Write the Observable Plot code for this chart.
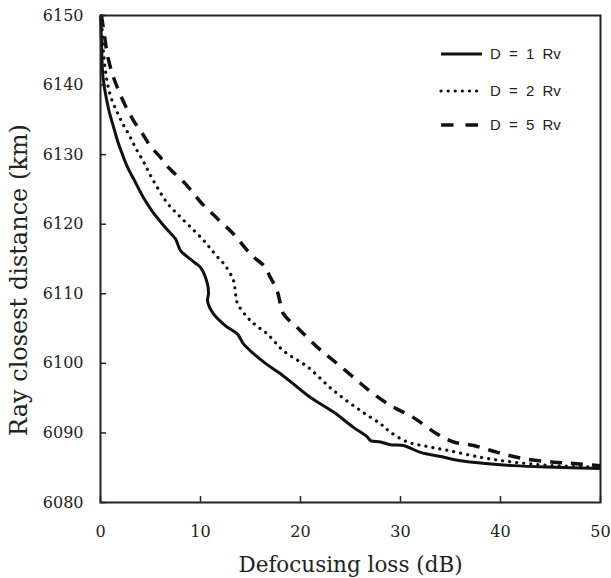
<!DOCTYPE html>
<html><head><meta charset="utf-8">
<script src="https://cdn.jsdelivr.net/npm/d3@7"></script>
<script src="https://cdn.jsdelivr.net/npm/@observablehq/plot@0.6"></script>
<style>body{margin:0;background:#fff}#chart{width:611px;height:578px}</style>
</head><body><div id="chart"></div>
<script>
const seriesNames = ["D = 1 Rv", "D = 2 Rv", "D = 5 Rv"];

const d1Loss = [0, 0.1, 0.2, 0.35, 0.6, 0.9, 1.3, 1.7, 2.2, 2.7, 3.5, 4.3, 5.2, 6.2, 7.0, 7.5, 8.0, 8.7, 9.4, 10.0, 10.7, 10.8, 10.7, 11.3, 12.5, 13.7, 14.3, 15.3, 16.5, 18.0, 19.5, 21.0, 23.3, 25.3, 26.7, 27.0, 28.0, 29.0, 30.3, 32.0, 34.0, 36.0, 38.5, 41.3, 44.7, 50];
const d1Dist = [6150, 6146, 6142, 6140, 6138, 6136, 6134, 6132, 6130, 6128.2, 6126, 6123.8, 6121.8, 6120, 6118.7, 6117.9, 6116.2, 6115.3, 6114.5, 6113.8, 6111.4, 6110, 6109, 6107.1, 6105.4, 6104.2, 6102.8, 6101.4, 6100, 6098.5, 6096.8, 6095.1, 6093, 6090.8, 6089.4, 6088.9, 6088.7, 6088.3, 6088.2, 6087.2, 6086.6, 6086.0, 6085.6, 6085.3, 6085.1, 6084.9];

const d2Loss = [0.1, 0.2, 0.3, 0.5, 0.7, 1.1, 1.7, 2.2, 2.8, 3.5, 4.3, 5.0, 5.8, 6.7, 7.8, 9.0, 10.3, 11.0, 11.7, 12.5, 13.3, 13.5, 13.7, 14.7, 15.5, 16.7, 18.3, 20.7, 23.3, 26.0, 28.0, 29.0, 30.7, 32.5, 34.7, 38.0, 41.3, 45.3, 50];
const d2Dist = [6150, 6147, 6144.6, 6142, 6140.2, 6138, 6136, 6134.5, 6133, 6131, 6129, 6127, 6125, 6123, 6121.3, 6119.6, 6117.7, 6116.5, 6115.3, 6114, 6111.9, 6110, 6108.6, 6106.6, 6105.5, 6104.2, 6101.8, 6099.5, 6096.1, 6093.2, 6091.3, 6090.1, 6088.7, 6088.1, 6087.5, 6086.5, 6085.8, 6085.3, 6085.1];

const d5Loss = [0.1, 0.2, 0.33, 0.67, 1.1, 1.67, 2.5, 3.3, 4.2, 5.0, 6.0, 6.9, 8.5, 10, 11.7, 13.3, 14.7, 15.3, 16.5, 16.9, 17.5, 17.7, 18.0, 18.3, 20.0, 21.7, 23.3, 25.3, 27.3, 29.3, 31.3, 33.5, 35.3, 37.3, 39.7, 42.3, 45.3, 47.3, 50];
const d5Dist = [6150, 6149, 6147.8, 6144.5, 6142, 6139.7, 6137, 6134.9, 6133, 6131.2, 6129.6, 6128, 6125.8, 6123.2, 6120.8, 6118.6, 6116.2, 6115.3, 6113.8, 6112.6, 6111, 6110.3, 6108.5, 6107.1, 6104.7, 6102.3, 6100.4, 6098, 6095.6, 6093.7, 6092.2, 6090, 6088.7, 6088.2, 6087.2, 6086.3, 6085.8, 6085.6, 6085.3];

const xTicks = [0, 10, 20, 30, 40, 50];
const yTicks = [6080, 6090, 6100, 6110, 6120, 6130, 6140, 6150];
const xLabel = "Defocusing loss (dB)";
const yLabel = "Ray closest distance (km)";

const toRows = (name, xs, ys) => xs.map((x, i) => ({series: name, x, y: ys[i]}));
const rows1 = toRows(seriesNames[0], d1Loss, d1Dist);
const rows2 = toRows(seriesNames[1], d2Loss, d2Dist);
const rows3 = toRows(seriesNames[2], d5Loss, d5Dist);

const lineStyles = [
  {stroke: "#111", strokeWidth: 3, strokeDasharray: null, strokeLinecap: "butt"},
  {stroke: "#111", strokeWidth: 3.2, strokeDasharray: "0.1,7", strokeLinecap: "round"},
  {stroke: "#111", strokeWidth: 3.5, strokeDasharray: "12,9", strokeLinecap: "butt"}
];

const serif = "DejaVu Serif";
const fmt = d3.format("d");

const plot = Plot.plot({
  width: 611, height: 578,
  marginLeft: 100, marginRight: 11, marginTop: 15, marginBottom: 76,
  style: {fontFamily: serif, fontSize: "16px", color: "#222", background: "#fff", overflow: "visible"},
  x: {domain: [0, 50]},
  y: {domain: [6080, 6150]},
  marks: [
    Plot.line(rows1, {x: "x", y: "y", curve: "catmull-rom", ...lineStyles[0]}),
    Plot.line(rows2, {x: "x", y: "y", curve: "catmull-rom", ...lineStyles[1]}),
    Plot.line(rows3, {x: "x", y: "y", curve: "catmull-rom", ...lineStyles[2]}),
    Plot.axisX({ticks: xTicks, tickSize: 0, tickPadding: 23, tickFormat: fmt, label: null, fontSize: 16, fontFamily: serif, fill: "#222"}),
    Plot.axisX({ticks: xTicks, tickSize: -6, tickFormat: () => "", label: null, stroke: "#222", strokeWidth: 1.5}),
    Plot.axisY({ticks: yTicks, tickSize: 0, tickPadding: 17, tickFormat: fmt, label: null, fontSize: 16, fontFamily: serif, fill: "#222"}),
    Plot.axisY({ticks: yTicks, tickSize: -6, tickFormat: () => "", label: null, stroke: "#222", strokeWidth: 1.5}),
    Plot.frame({stroke: "#222", strokeWidth: 2}),
    Plot.text([xLabel], {text: d => d, frameAnchor: "bottom", textAnchor: "middle", lineAnchor: "middle", dy: 63, fontSize: 21.5, fontFamily: serif, fill: "#222"}),
    Plot.text([yLabel], {text: d => d, frameAnchor: "left", textAnchor: "middle", lineAnchor: "middle", dx: -81, dy: 21, rotate: -90, fontSize: 24, fontFamily: serif, fill: "#222"})
  ]
});

// Legend (inset, top right)
const svg = d3.select(plot);
const lg = svg.append("g").attr("class", "legend");
const legendY = [54, 91, 125];
seriesNames.forEach((name, i) => {
  const st = lineStyles[i];
  lg.append("line")
    .attr("x1", 441).attr("x2", i === 2 ? 478 : 482)
    .attr("y1", legendY[i]).attr("y2", legendY[i])
    .attr("stroke", st.stroke).attr("stroke-width", st.strokeWidth)
    .attr("stroke-dasharray", i === 2 ? "12.5,12" : st.strokeDasharray)
    .attr("stroke-linecap", st.strokeLinecap);
  lg.append("text")
    .attr("x", 490).attr("y", legendY[i] + 5)
    .attr("text-anchor", "start")
    .attr("font-family", "Liberation Sans, Arial, sans-serif")
    .attr("font-size", 15).attr("word-spacing", 4)
    .attr("fill", "#222")
    .text(name);
});

document.getElementById("chart").appendChild(plot);
</script>
</body></html>
